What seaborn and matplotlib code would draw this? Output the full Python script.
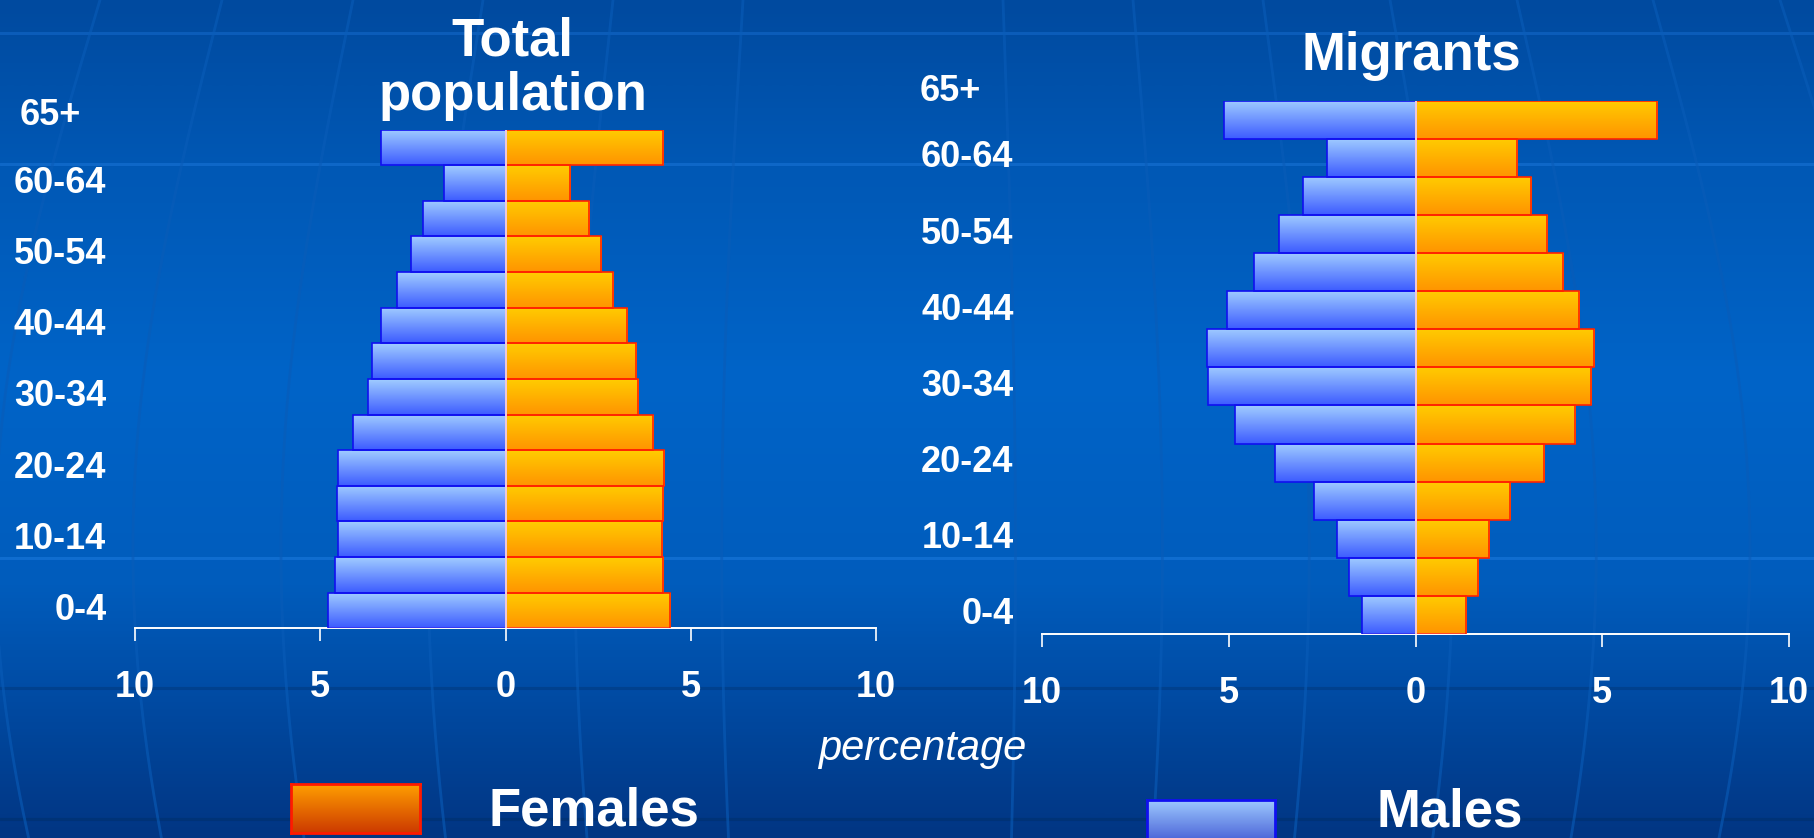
import numpy as np
import pandas as pd
import matplotlib
matplotlib.use('Agg')
import matplotlib.pyplot as plt
import seaborn as sns
from matplotlib.colors import LinearSegmentedColormap
from matplotlib.transforms import blended_transform_factory

# ---------------- data ----------------
age_groups = ['0-4', '5-9', '10-14', '15-19', '20-24', '25-29', '30-34',
              '35-39', '40-44', '45-49', '50-54', '55-59', '60-64', '65+']
total_males = [4.78, 4.59, 4.53, 4.56, 4.53, 4.12, 3.71, 3.61, 3.36, 2.93, 2.54, 2.23, 1.66, 3.36]
total_females = [4.45, 4.25, 4.22, 4.25, 4.28, 3.98, 3.57, 3.52, 3.29, 2.91, 2.57, 2.26, 1.75, 4.25]
migrant_males = [1.44, 1.77, 2.09, 2.72, 3.75, 4.84, 5.55, 5.58, 5.05, 4.33, 3.66, 3.02, 2.38, 5.12]
migrant_females = [1.36, 1.67, 1.97, 2.52, 3.45, 4.27, 4.70, 4.77, 4.39, 3.94, 3.52, 3.08, 2.73, 6.47]
labelled_groups = ['0-4', '10-14', '20-24', '30-34', '40-44', '50-54', '60-64', '65+']
x_ticks = [-10, -5, 0, 5, 10]
sex_labels = ['Males', 'Females']
axis_label = 'percentage'

# ---------------- style ----------------
sns.set_theme(style='white')
plt.rcParams['font.family'] = ['Liberation Sans', 'DejaVu Sans']

W, H = 1814, 838
fig = plt.figure(figsize=(W / 100, H / 100), dpi=100)

# background gradient + faint globe lines
bg = fig.add_axes([0, 0, 1, 1], zorder=-10)
bg_cmap = LinearSegmentedColormap.from_list(
    'bg', [(0, '#004a9f'), (0.2, '#0058b5'), (0.45, '#0064c8'),
           (0.7, '#005cbc'), (0.85, '#0049a0'), (1, '#023683')])
bg.imshow(np.linspace(0, 1, 256).reshape(-1, 1), cmap=bg_cmap, aspect='auto',
          extent=(0, 1, 0, 1), origin='upper', interpolation='bilinear')
for yy, col in [(33, '#1468c8'), (164, '#1872d4'), (558, '#1a78dc'),
                (688, '#003a80'), (819, '#00306e')]:
    bg.axhline(1 - yy / H, color=col, lw=2.2, alpha=0.6)
ys = np.linspace(0, H, 200)
for xt in [100, 222, 353, 483, 613, 743, 1003, 1133, 1263, 1390, 1517, 1653, 1780]:
    xs = 907 + (xt - 907) * (1 + 0.13 * np.sin(np.pi * ys / 1100))
    bg.plot(xs / W, 1 - ys / H, color='#0a5cb8', lw=2, alpha=0.6)
bg.set_xlim(0, 1)
bg.set_ylim(0, 1)
bg.axis('off')

male_top, male_bot, male_edge = '#a0ccff', '#3d5cff', '#1010f0'
fem_top, fem_bot, fem_edge = '#ffcc00', '#ff9400', '#ff2200'


def gradient_patch(ax, patch, c_top, c_bot, edge):
    x0, y0 = patch.get_x(), patch.get_y()
    w, h = patch.get_width(), patch.get_height()
    cmap = LinearSegmentedColormap.from_list('g', [c_top, c_bot])
    im = ax.imshow(np.linspace(0, 1, 64).reshape(-1, 1), cmap=cmap, aspect='auto',
                   extent=(x0, x0 + w, y0 + h, y0), origin='upper',
                   interpolation='bilinear', zorder=2)
    im.set_clip_path(patch)
    patch.set_facecolor('none')
    patch.set_edgecolor(edge)
    patch.set_linewidth(1.2)
    patch.set_zorder(3)


def draw_panel(rect, males, females, top_dy, lab_x, top_lab_x):
    ax = fig.add_axes(rect, facecolor='none')
    order = age_groups[::-1]
    df = pd.DataFrame({
        'age': age_groups * 2,
        'sex': ['Males'] * len(age_groups) + ['Females'] * len(age_groups),
        'value': [-m for m in males] + list(females),
    })
    sns.barplot(data=df, x='value', y='age', hue='sex', order=order,
                hue_order=sex_labels, orient='h', dodge=False, width=1.0,
                errorbar=None, legend=False, ax=ax,
                palette=['#6f9bff', '#ffb000'], saturation=1)
    for p in ax.containers[0].patches:
        gradient_patch(ax, p, male_top, male_bot, male_edge)
    for p in ax.containers[1].patches:
        gradient_patch(ax, p, fem_top, fem_bot, fem_edge)
    ax.axvline(0, color='#f2eaff', lw=1.2, zorder=4)
    ax.set_xlim(-10, 10)
    ax.set_ylim(len(order) - 0.5, -0.5)
    ax.set_xticks(x_ticks)
    ax.set_xticklabels([str(abs(t)) for t in x_ticks], fontsize=26,
                       fontweight='bold', color='white')
    ax.tick_params(axis='x', colors='white', direction='out', length=9,
                   width=1.2, pad=21, bottom=True)
    ax.set_yticks([])
    ax.set_xlabel('')
    ax.set_ylabel('')
    for s in ['left', 'right', 'top']:
        ax.spines[s].set_visible(False)
    ax.spines['bottom'].set_color('white')
    ax.spines['bottom'].set_linewidth(1.4)
    tr = blended_transform_factory(ax.transAxes, ax.transData)
    for lab in labelled_groups:
        pos = order.index(lab)
        if lab == '65+':
            ax.text(top_lab_x, pos + top_dy, lab, transform=tr, ha='right',
                    va='center', fontsize=26, fontweight='bold', color='white',
                    clip_on=False)
        else:
            ax.text(lab_x, pos, lab, transform=tr, ha='right', va='center',
                    fontsize=26, fontweight='bold', color='white', clip_on=False)
    return ax


# left panel: x -10..10 spans 135..876 px, bars 129.6..628.3 px
draw_panel([135 / W, 1 - 628.3 / H, 741 / W, (628.3 - 129.6) / H],
           total_males, total_females, -0.9, -0.0386, -0.0729)
# right panel: x -10..10 spans 1042..1789 px, bars 100.7..634 px
draw_panel([1042 / W, 1 - 634 / H, 747 / W, (634 - 100.7) / H],
           migrant_males, migrant_females, -0.75, -0.038, -0.0817)

# titles
fig.text(512 / W, 1 - 55.5 / H, 'Total', ha='center', va='baseline',
         fontsize=38, fontweight='bold', color='white')
fig.text(513 / W, 1 - 110 / H, 'population', ha='center', va='baseline',
         fontsize=38, fontweight='bold', color='white')
fig.text(1411 / W, 1 - 70 / H, 'Migrants', ha='center', va='baseline',
         fontsize=38, fontweight='bold', color='white')

# x-axis label
fig.text(922 / W, 1 - 760 / H, axis_label, ha='center', va='baseline',
         fontsize=30, fontstyle='italic', color='white')

# legend


def legend_box(rect, c_top, c_bot, edge):
    lx = fig.add_axes(rect)
    cmap = LinearSegmentedColormap.from_list('lg', [c_top, c_bot])
    lx.imshow(np.linspace(0, 1, 64).reshape(-1, 1), cmap=cmap, aspect='auto',
              extent=(0, 1, 0, 1), origin='upper', interpolation='bilinear')
    lx.set_xticks([])
    lx.set_yticks([])
    for s in lx.spines.values():
        s.set_visible(True)
        s.set_color(edge)
        s.set_linewidth(2)


legend_box([291 / W, 1 - 833 / H, 129 / W, 49 / H], '#ff9e00', '#cc3a00', '#ff1a00')
fig.text(489 / W, 1 - 825 / H, sex_labels[1], ha='left', va='baseline',
         fontsize=38, fontweight='bold', color='white')
legend_box([1147 / W, 1 - 849 / H, 128 / W, 49 / H], '#9fcbff', '#3a4fd0', '#1010f0')
fig.text(1376 / W, 1 - 826 / H, sex_labels[0], ha='left', va='baseline',
         fontsize=38, fontweight='bold', color='white')

fig.savefig('out.png', dpi=100)
